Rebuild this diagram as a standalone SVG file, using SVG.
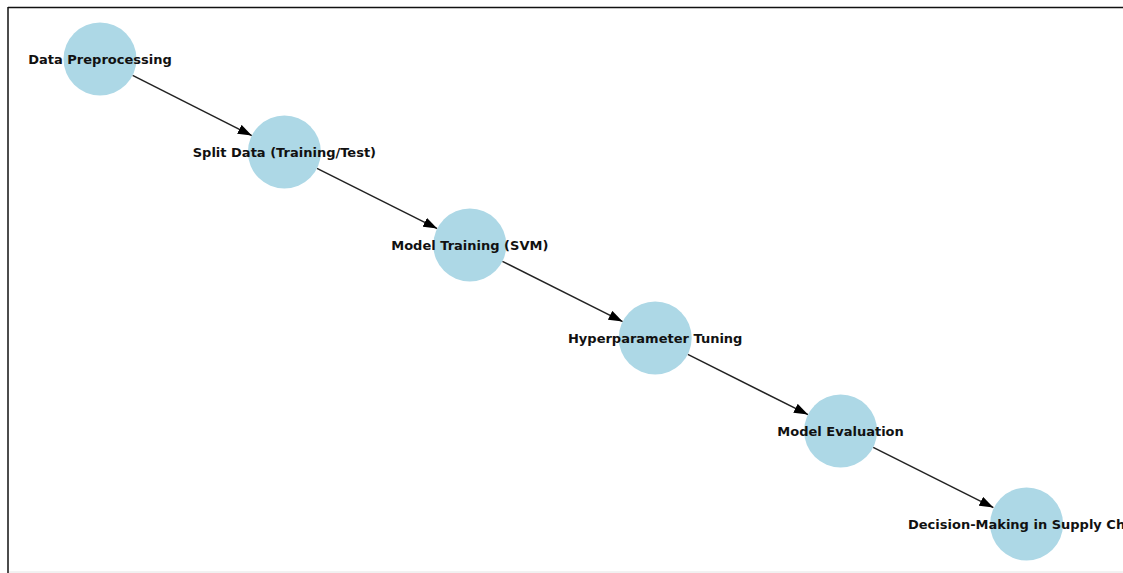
<svg xmlns="http://www.w3.org/2000/svg" width="1123" height="573" viewBox="0 0 1123 573">
<style>
.node circle{fill:#add8e6;}
.node text{font-family:"DejaVu Sans","Liberation Sans",sans-serif;font-weight:bold;font-size:13px;fill:#111;text-anchor:middle;}
.edge{stroke:#222;stroke-width:1.5;fill:none;marker-end:url(#arr);}
</style>
<defs>
<marker id="arr" viewBox="0 0 14 10" refX="14" refY="5" markerWidth="14" markerHeight="10" markerUnits="userSpaceOnUse" orient="auto">
<path d="M0,0 L14,5 L0,10 Z" fill="#000"/>
</marker>
</defs>
<rect x="0" y="0" width="1123" height="573" fill="#fff"/>
<line x1="8" y1="7.5" x2="1123" y2="7.5" stroke="#111" stroke-width="1.5"/>
<line x1="8" y1="7" x2="8" y2="573" stroke="#111" stroke-width="1.5"/>
<line x1="9" y1="572" x2="1123" y2="572" stroke="#e4e4e4" stroke-width="1"/>
<g id="connectors">
<line class="edge" x1="132.6" y1="75.4" x2="251.8" y2="135.6"/>
<line class="edge" x1="317" y1="168.4" x2="437.2" y2="228.6"/>
<line class="edge" x1="502.4" y1="261.4" x2="622.6" y2="321.6"/>
<line class="edge" x1="687.8" y1="354.4" x2="808" y2="414.6"/>
<line class="edge" x1="873.2" y1="447.4" x2="993.4" y2="507.6"/>
</g>
<g id="n1" class="node"><circle cx="100" cy="59" r="36.5"/><text x="100" y="64">Data Preprocessing</text></g>
<g id="n2" class="node"><circle cx="284.4" cy="152" r="36.5"/><text x="284.4" y="157">Split Data (Training/Test)</text></g>
<g id="n3" class="node"><circle cx="469.8" cy="245" r="36.5"/><text x="469.8" y="250">Model Training (SVM)</text></g>
<g id="n4" class="node"><circle cx="655.2" cy="338" r="36.5"/><text x="655.2" y="343">Hyperparameter Tuning</text></g>
<g id="n5" class="node"><circle cx="840.6" cy="431" r="36.5"/><text x="840.6" y="436">Model Evaluation</text></g>
<g id="n6" class="node"><circle cx="1026.6" cy="524" r="36.5"/><text x="908" y="529" style="text-anchor:start">Decision-Making in Supply Ch</text></g>
</svg>
